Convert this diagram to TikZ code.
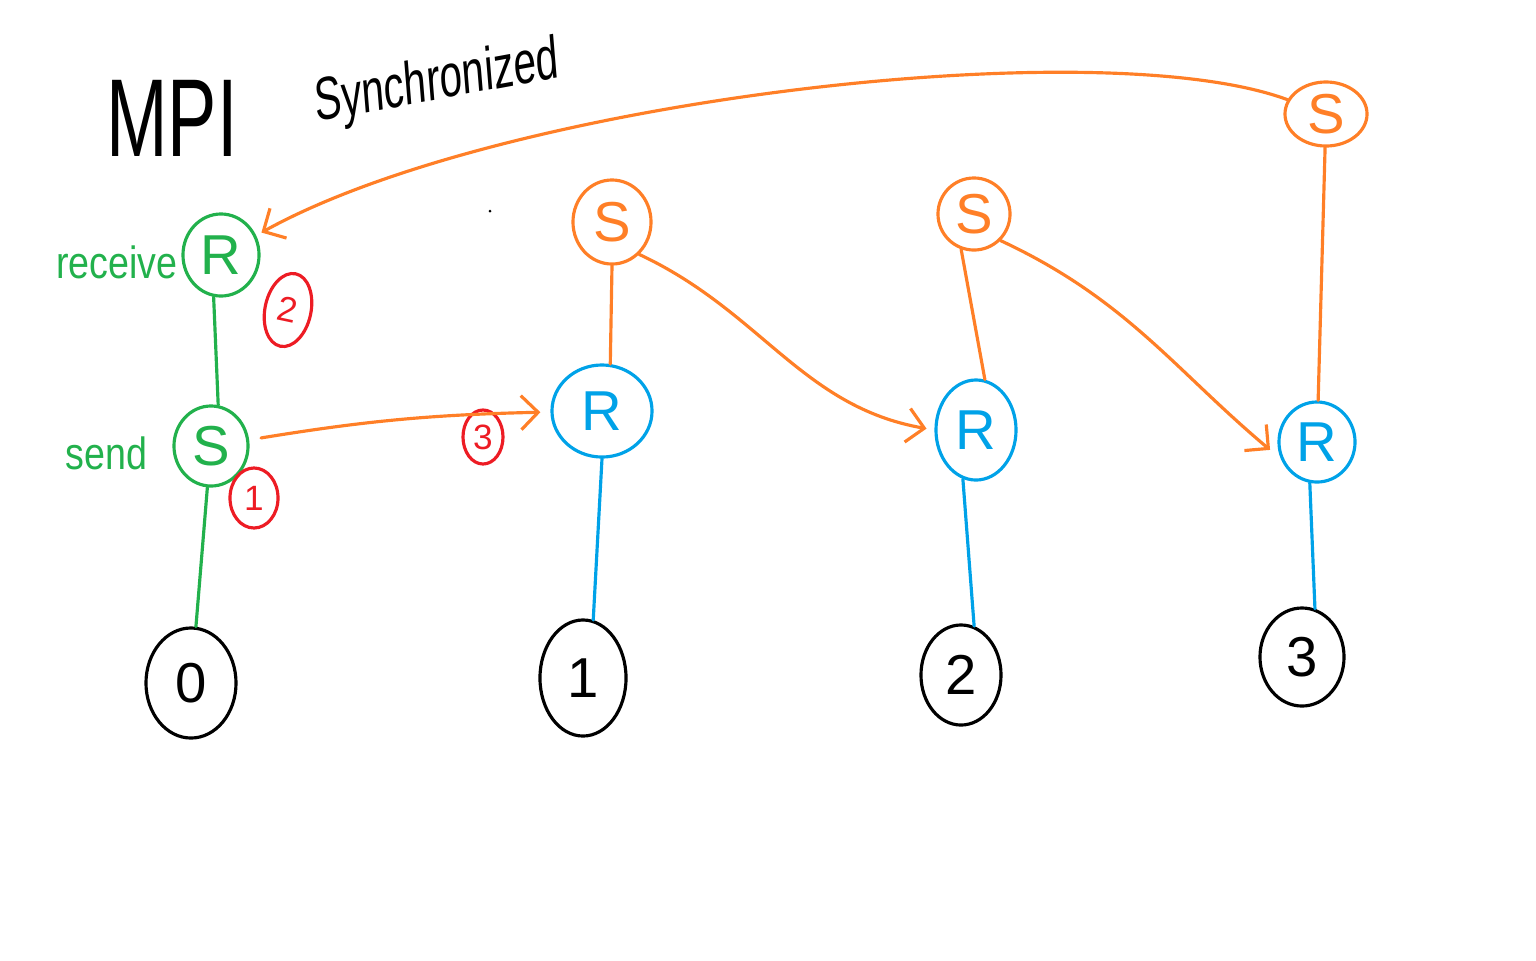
\documentclass[tikz,border=0pt]{standalone}
\usepackage{fontspec}
\setmainfont{Liberation Sans}
\usetikzlibrary{shapes.geometric,arrows.meta}
\definecolor{pgreen}{HTML}{22B14C}
\definecolor{porange}{HTML}{FF7F27}
\definecolor{pblue}{HTML}{00A2E8}
\definecolor{pred}{HTML}{ED1C24}
\begin{document}
\begin{tikzpicture}[x=0.01cm,y=-0.01cm, line width=0.9pt, line cap=round, line join=round,
  circ/.style={ellipse, draw, inner sep=0pt, font=\fontsize{16}{16}\selectfont},
  redc/.style={ellipse, draw=pred, text=pred, inner sep=0pt, font=\fontsize{10}{10}\selectfont},
  sz/.style 2 args={minimum width=#1cm, minimum height=#2cm},
  gnode/.style={circ, draw=pgreen, text=pgreen},
  onode/.style={circ, draw=porange, text=porange},
  bnode/.style={circ, draw=pblue, text=pblue},
  knode/.style={circ, draw=black, text=black},
  glabel/.style={text=pgreen, font=\fontsize{10.7}{11}\selectfont, yscale=1.2, inner sep=0pt},
  arr/.style={porange, -{Straight Barb[length=0.17cm,width=0.34cm]}}]
\useasboundingbox (0,0) rectangle (1536,960);

% title
\node[font=\fontsize{21}{21}\selectfont, yscale=1.5, inner sep=0pt] (tmpi) at (172,118) {MPI};
\node[font=\fontsize{11.5}{12}\selectfont, yscale=1.5, rotate=7, inner sep=0pt] (tsync) at (437,84) {Synchronized};
\fill (490,211) circle (1.5);

% green process 0
\node[gnode, sz={0.76}{0.82}] (gR) at (221,255) {R};
\node[gnode, sz={0.74}{0.80}] (gS) at (211,446) {S};
\node[glabel, anchor=east] (lrec) at (179,262) {receive};
\node[glabel, anchor=east] (lsend) at (149,453) {send};

% red order marks
\node[redc, sz={0.46}{0.74}, rotate=-12] (m2) at (288,310) {2};
\node[redc, sz={0.48}{0.60}] (m1) at (254,498) {1};
\node[redc, sz={0.40}{0.54}] (m3) at (483,437) {3};

% orange senders
\node[onode, sz={0.78}{0.84}] (oS1) at (612,222) {S};
\node[onode, sz={0.72}{0.72}] (oS2) at (974,214) {S};
\node[onode, sz={0.82}{0.64}] (oS3) at (1326,114) {S};

% blue receivers
\node[bnode, sz={1.00}{0.92}] (bR1) at (602,411) {R};
\node[bnode, sz={0.80}{1.00}] (bR2) at (976,430) {R};
\node[bnode, sz={0.76}{0.80}] (bR3) at (1317,442) {R};

% black process ids
\node[knode, sz={0.90}{1.10}] (k0) at (191,683) {0};
\node[knode, sz={0.86}{1.16}] (k1) at (583,678) {1};
\node[knode, sz={0.80}{1.00}] (k2) at (961,675) {2};
\node[knode, sz={0.84}{0.98}] (k3) at (1302,657) {3};

% vertical connectors
\draw[pgreen] (gR.260) -- (gS.80);
\draw[pgreen] (gS.265) -- (k0.85);
\draw[pblue] (bR1.south) -- (k1.80);
\draw[pblue] (bR2.255) -- (k2.75);
\draw[pblue] (bR3.260) -- (k3.75);
\draw[porange] (oS1.south) -- (bR1.80);
\draw[porange] (oS2.250) -- (bR2.80);
\draw[porange] (oS3) -- (bR3);

% orange messages
\draw[arr, shorten >=0.1cm, shorten <=0.12cm] (gS) to[bend left=4] (bR1);
\draw[arr, shorten >=0.08cm] (oS1.-50) to[out=-25, in=170] (bR2.west);
\draw[arr, shorten >=0.14cm] (oS2.-45) to[out=-25, in=140] (bR3.205);
\draw[arr, shorten >=0.06cm] (oS3) .. controls (1100,30) and (500,100) .. (gR);
\end{tikzpicture}
\end{document}
